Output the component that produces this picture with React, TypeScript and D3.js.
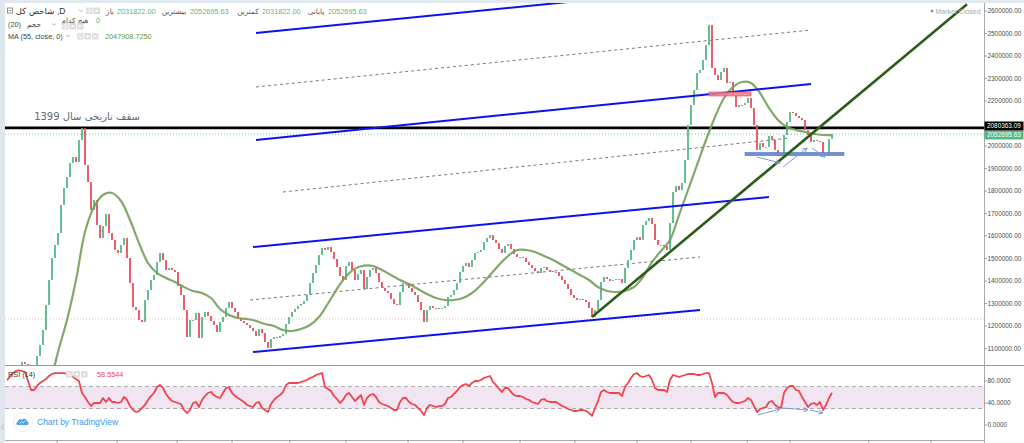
import React from 'react';
import * as d3 from 'd3';

const W = 1024;
const H = 443;

// daily closes of the index, in thousands (one per bar)
const closes: number[] = [
  937.8, 960, 977.8, 1000, 1017.8,
  1040, 1031.1, 1013.3, 1004.4, 1022.2,
  1066.7, 1115.6, 1182.2, 1293.3, 1404.4,
  1502.2, 1560, 1613.3, 1737.8, 1813.3,
  1862.2, 1924.4, 1951.1, 1928.9, 2026.7,
  2080, 1915.6, 1840, 1715.6, 1760,
  1648.9, 1591.1, 1644.4, 1697.8, 1613.3,
  1582.2, 1537.8, 1524.4, 1560, 1591.1,
  1502.2, 1391.1, 1284.4, 1271.1, 1226.7,
  1217.8, 1315.6, 1360, 1404.4, 1426.7,
  1484.4, 1524.4, 1493.3, 1448.9, 1457.8,
  1448.9, 1440, 1377.8, 1337.8, 1271.1,
  1151.1, 1226.7, 1226.7, 1257.8, 1146.7,
  1240, 1262.2, 1244.4, 1222.2, 1204.4,
  1173.3, 1217.8, 1240, 1280, 1306.7,
  1280, 1262.2, 1235.6, 1222.2, 1213.3,
  1204.4, 1191.1, 1177.8, 1155.6, 1186.7,
  1168.9, 1128.9, 1102.2, 1142.2, 1151.1,
  1146.7, 1155.6, 1164.4, 1208.9, 1240,
  1262.2, 1275.6, 1288.9, 1297.8, 1311.1,
  1337.8, 1391.1, 1435.6, 1471.1, 1515.6,
  1546.7, 1537.8, 1551.1, 1528.9, 1497.8,
  1462.2, 1422.2, 1404.4, 1466.7, 1484.4,
  1448.9, 1404.4, 1431.1, 1448.9, 1364.4,
  1417.8, 1448.9, 1457.8, 1435.6, 1395.6,
  1368.9, 1355.6, 1346.7, 1320, 1297.8,
  1293.3, 1351.1, 1391.1, 1391.1, 1368.9,
  1351.1, 1337.8, 1306.7, 1271.1, 1217.8,
  1271.1, 1288.9, 1280, 1275.6, 1280,
  1280, 1288.9, 1328.9, 1337.8, 1360,
  1391.1, 1440, 1466.7, 1480, 1462.2,
  1493.3, 1524.4, 1528.9, 1537.8, 1573.3,
  1591.1, 1604.4, 1582.2, 1568.9, 1542.2,
  1524.4, 1555.6, 1564.4, 1542.2, 1520,
  1506.7, 1506.7, 1502.2, 1484.4, 1471.1,
  1457.8, 1444.4, 1435.6, 1457.8, 1462.2,
  1448.9, 1444.4, 1440, 1440, 1422.2,
  1404.4, 1386.7, 1364.4, 1337.8, 1324.4,
  1315.6, 1320, 1315.6, 1306.7, 1280,
  1240, 1271.1, 1315.6, 1395.6, 1417.8,
  1408.9, 1400, 1404.4, 1408.9, 1408.9,
  1391.1, 1457.8, 1493.3, 1537.8, 1582.2,
  1595.6, 1582.2, 1648.9, 1666.7, 1680,
  1653.3, 1582.2, 1560, 1560, 1555.6,
  1537.8, 1657.8, 1795.6, 1822.2, 1804.4,
  1835.6, 1937.8, 2093.3, 2182.2, 2248.9,
  2324.4, 2337.8, 2382.2, 2448.9, 2537.8,
  2346.7, 2315.6, 2293.3, 2328.9, 2346.7,
  2280, 2284.4, 2226.7, 2173.3, 2182.2,
  2182.2, 2191.1, 2213.3, 2168.9, 2093.3,
  1982.2, 2013.3, 1995.6, 1995.6, 2044.4,
  2026.7, 1982.2, 1955.6, 1960, 2048.9,
  2106.7, 2151.1, 2146.7, 2133.3, 2124.4,
  2115.6, 2071.1, 2048.9, 2017.8, 2026.7,
  2022.2, 2017.8, 1968.9, 1964.4, 2031.8,
  2052.7,
];

// RSI(14), one per bar
const rsi14: number[] = [
  81.8, 87.3, 94.5, 98.2, 99.5,
  98.2, 96.4, 80, 63.6, 63.6,
  70.9, 76.4, 80, 83.6, 89.1,
  92.7, 94.5, 94.5, 94.5, 94.5,
  92.7, 90.9, 87.3, 83.6, 80,
  58.2, 50.9, 41.8, 34.5, 40,
  40, 40, 49.1, 41.8, 49.1,
  41.8, 41.8, 40, 41.8, 50.9,
  45.5, 34.5, 27.3, 23.6, 25.5,
  30.9, 36.4, 45.5, 52.7, 58.2,
  69.1, 72.7, 67.3, 56.4, 49.1,
  43.6, 41.8, 40, 38.2, 27.3,
  21.8, 27.3, 40, 41.8, 32.7,
  45.5, 52.7, 58.2, 60, 54.5,
  50.9, 49.1, 58.2, 67.3, 69.1,
  58.2, 52.7, 49.1, 45.5, 41.8,
  36.4, 34.5, 32.7, 40, 41.8,
  30.9, 27.3, 23.6, 38.2, 45.5,
  50.9, 54.5, 60, 72.7, 76.4,
  76.4, 76.4, 76.4, 78.2, 80,
  81.8, 85.5, 87.3, 90.9, 92.7,
  94.5, 69.1, 65.5, 61.8, 52.7,
  47.3, 40, 45.5, 54.5, 58.2,
  50.9, 43.6, 49.1, 54.5, 36.4,
  49.1, 54.5, 56.4, 50.9, 41.8,
  38.2, 36.4, 34.5, 30.9, 27.3,
  27.3, 41.8, 49.1, 49.1, 41.8,
  38.2, 36.4, 30.9, 25.5, 18.2,
  30.9, 36.4, 34.5, 32.7, 34.5,
  34.5, 38.2, 49.1, 50.9, 56.4,
  61.8, 69.1, 72.7, 74.5, 70.9,
  76.4, 80, 80, 81.8, 85.5,
  87.3, 89.1, 78.2, 72.7, 65.5,
  60, 67.3, 67.3, 60, 54.5,
  52.7, 52.7, 50.9, 47.3, 45.5,
  41.8, 40, 38.2, 45.5, 47.3,
  43.6, 41.8, 41.8, 41.8, 38.2,
  34.5, 32.7, 29.1, 27.3, 25.5,
  25.5, 27.3, 27.3, 25.5, 21.8,
  16.4, 30.9, 43.6, 60, 63.6,
  60, 58.2, 58.2, 58.2, 58.2,
  52.7, 69.1, 76.4, 85.5, 92.7,
  94.5, 89.1, 87.3, 89.1, 90.9,
  81.8, 67.3, 63.6, 63.6, 63.6,
  60, 81.8, 90.9, 89.1, 87.3,
  89.1, 90.9, 92.7, 92.7, 92.7,
  90.9, 90.9, 92.7, 94.5, 94.5,
  76.4, 50.9, 58.2, 58.2, 58.2,
  54.5, 47.3, 41.8, 40, 40,
  41.8, 43.6, 49.1, 45.5, 34.5,
  23.6, 29.1, 30.9, 32.7, 41.8,
  43.6, 36.4, 32.7, 30.9, 58.2,
  67.3, 70.9, 70.9, 63.6, 61.8,
  50.9, 41.8, 32.7, 38.2, 40,
  36.4, 41.8, 27.3, 36.4, 49.1,
  58.55,
];

// MA(55) read every third bar, starting at bar 14 (thousands)
const maStart = 14;
const maStep = 3;
const ma55: number[] = [
  915.6, 1084.4, 1226.7, 1404.4, 1617.8, 1728.9, 1782.2, 1791.1, 1755.6, 1671.1,
  1568.9, 1480, 1435.6, 1413.3, 1395.6, 1373.3, 1355.6, 1346.7, 1324.4, 1275.6,
  1248.9, 1235.6, 1231.1, 1222.2, 1208.9, 1200, 1182.2, 1177.8, 1186.7, 1204.4,
  1240, 1300, 1365, 1420, 1455, 1468, 1466.7, 1448.9, 1426.7, 1404.4,
  1386.7, 1364.4, 1342.2, 1324.4, 1315.6, 1315.6, 1324.4, 1346.7, 1382.2, 1426.7,
  1471.1, 1511.1, 1537.8, 1537.8, 1528.9, 1511.1, 1493.3, 1471.1, 1448.9, 1426.7,
  1404.4, 1373.3, 1355.6, 1351.1, 1355.6, 1373.3, 1417.8, 1484.4, 1533.3, 1582.2,
  1693.3, 1804.4, 1915.6, 2026.7, 2128.9, 2213.3, 2262.2, 2284.4, 2280, 2235.6,
  2168.9, 2115.6, 2084.4, 2071.1, 2062.2, 2053.3, 2048.9, 2047.9,
];

const priceTicks = [2600, 2500, 2400, 2300, 2200, 2100, 2000, 1900, 1800, 1700, 1600, 1500, 1400, 1300, 1200, 1100];
const rsiTicks = [80, 40, 0];
const rsiBand = [70, 30];
// month boundaries on the time axis, in bar units
const timeTicks = [16.7, 36.7, 56.7, 75, 94.3, 113, 133.7, 152, 171, 189.3, 210, 228, 246.7, 261, 287.3, 308];

// drawn tools: [bar1, price1, bar2, price2]
const blueChannelLines = [
  [83, 2502.2, 187, 2640.0],
  [83, 2026.7, 268, 2275.6],
  [82, 1551.1, 254, 1773.3],
  [82, 1084.4, 231, 1271.1],
];
const dashedMidLines = [
  [83, 2262.2, 268, 2515.6],
  [92, 1795.6, 261, 2035.6],
  [81, 1315.6, 231, 1506.7],
];
const trendLine = [195, 1240, 320, 2630];
const historicHigh = 2080.36309;
const lastClose = 2052.69563;
const lowLevel = 1231.1;
const resistanceZone = [234, 248, 2231.1];
const supportZone = [246, 279, 1964.4];
const priceArrows = [
  [250, 1951.1, 257.7, 1924.4],
  [258.7, 1906.7, 266.7, 1991.1],
  [268.3, 1991.1, 272.7, 1951.1],
];
const rsiArrows = [
  [250.3, 18.2, 257.7, 29.1],
  [258.3, 30.9, 267, 27.3],
  [267.7, 27.3, 272, 21.8],
];

const legendOHLC = [
  { label: 'باز', value: '2031822.00' },
  { label: 'بیشترین', value: '2052695.63' },
  { label: 'کمترین', value: '2031822.00' },
  { label: 'پایانی', value: '2052695.63' },
];

const NUM = '"Liberation Sans", Arial, sans-serif';
const FA = '"DejaVu Sans", "Noto Sans", sans-serif';

function Icons({ x, y, n }: { x: number; y: number; n: number }) {
  return (
    <g>
      {d3.range(n).map((k) => (
        <g key={k} transform={`translate(${x + k * 7.5},${y})`}>
          <rect width={6.5} height={6.5} rx={0.8} fill="#dcdcdc" />
          {k === 0 && <circle cx={3.25} cy={3.25} r={1.6} fill="none" stroke="#fff" strokeWidth={0.8} />}
          {k === 1 && <circle cx={3.25} cy={3.25} r={1.3} fill="#fff" />}
          {k === 2 && <path d="M1.6,1.6 L4.9,4.9 M4.9,1.6 L1.6,4.9" stroke="#fff" strokeWidth={0.9} />}
        </g>
      ))}
    </g>
  );
}

function Chevron({ x, y }: { x: number; y: number }) {
  return <path d={`M${x},${y} L${x + 2},${y + 1.6} L${x + 4},${y}`} fill="none" stroke="#aaa" strokeWidth={0.8} />;
}

export default function App() {
  const x = d3.scaleLinear().domain([0, closes.length - 1]).range([7, 832]);
  const y = d3.scaleLinear().domain([1100, 2600]).range([348.5, 11]);
  const yr = d3.scaleLinear().domain([0, 80]).range([425, 381]);

  const up = '#53b987';
  const down = '#eb4d5c';

  const maLine = d3
    .line<number>()
    .x((_, k) => x(maStart + k * maStep))
    .y((v) => y(v))
    .curve(d3.curveCatmullRom.alpha(0.5));

  const rsiLine = d3
    .line<number>()
    .x((_, k) => x(k))
    .y((v) => yr(v));

  const fmtP = (v: number) => d3.format('.2f')(v * 1000);
  const fmtR = d3.format('.4f');

  const seg = (s: number[], sy: (v: number) => number) => ({
    x1: x(s[0]),
    y1: sy(s[1]),
    x2: x(s[2]),
    y2: sy(s[3]),
  });

  const axisX = 984.5;
  // axis labels hidden behind the price tags
  const tagYs = [y(historicHigh), y(lastClose)];
  const visibleTicks = priceTicks.filter((v) => tagYs.every((ty) => Math.abs(y(v) - ty) > 9));

  return (
    <svg width={W} height={H} style={{ position: 'absolute', left: 0, top: 0, display: 'block', background: '#fff' }}>
      <defs>
        <clipPath id="mainClip">
          <rect x={5} y={3} width={axisX - 5} height={362} />
        </clipPath>
        <clipPath id="rsiClip">
          <rect x={5} y={366} width={axisX - 5} height={74} />
        </clipPath>
        <marker id="arr" viewBox="0 0 8 8" refX={7} refY={4} markerWidth={6} markerHeight={6} orient="auto">
          <path d="M1,1 L7,4 L1,7" fill="none" stroke="#7d9bd8" strokeWidth={1.2} />
        </marker>
      </defs>

      {/* frame strips */}
      <rect x={0} y={0} width={W} height={3} fill="#e2e8ef" />
      <rect x={0} y={0} width={5} height={H} fill="#dfe6ee" />
      <path d="M3.5,424 L1.8,427 L3.5,430" fill="none" stroke="#9aa" strokeWidth={0.7} />

      {/* ===== main pane ===== */}
      <g clipPath="url(#mainClip)">
        <line x1={5} x2={axisX} y1={y(lowLevel)} y2={y(lowLevel)} stroke="#f2b9b9" strokeWidth={1} strokeDasharray="1 2" />

        {dashedMidLines.map((s, k) => (
          <line key={k} {...seg(s, y)} stroke="#777" strokeWidth={1} strokeDasharray="3 3" />
        ))}

        <line x1={5} x2={axisX} y1={y(historicHigh)} y2={y(historicHigh)} stroke="#000" strokeWidth={2.6} />
        <line x1={5} x2={axisX} y1={y(lastClose)} y2={y(lastClose)} stroke={up} strokeWidth={0.8} strokeDasharray="1 2" />

        {closes.map((c, i) => {
          const o = i === 0 ? c : closes[i - 1];
          const y0 = y(Math.max(o, c));
          const h = Math.max(1, Math.abs(y(o) - y(c)));
          return <rect key={i} x={x(i) - 0.9} y={y0} width={1.8} height={h} fill={c >= o ? up : down} />;
        })}

        <path d={maLine(ma55) || ''} fill="none" stroke="#72a05a" strokeOpacity={0.9} strokeWidth={2.2} />

        {blueChannelLines.map((s, k) => (
          <line key={k} {...seg(s, y)} stroke="#0a12f2" strokeWidth={2} />
        ))}

        <rect
          x={x(resistanceZone[0])}
          y={y(resistanceZone[2]) - 2}
          width={x(resistanceZone[1]) - x(resistanceZone[0])}
          height={4}
          fill="#ef7d8c"
          fillOpacity={0.85}
          stroke="#d9455c"
          strokeWidth={0.6}
        />
        <rect
          x={x(supportZone[0])}
          y={y(supportZone[2]) - 1.6}
          width={x(supportZone[1]) - x(supportZone[0])}
          height={3.2}
          fill="#6f8fd0"
          stroke="#4a6ab5"
          strokeWidth={0.5}
        />

        <line {...seg(trendLine, y)} stroke="#2c5d18" strokeWidth={2.6} />

        {priceArrows.map((s, k) => (
          <line key={k} {...seg(s, y)} stroke="#7d9bd8" strokeWidth={1} markerEnd="url(#arr)" />
        ))}
      </g>

      {/* annotation */}
      <text x={87} y={119.5} textAnchor="middle" fontFamily={FA} fontSize={10} fill="#5f6775">
        سقف تاریخی سال 1399
      </text>

      {/* Market closed */}
      <circle cx={932} cy={11} r={1.5} fill="#999" />
      <text x={935.5} y={13.5} fontFamily={NUM} fontSize={7} fill="#aaa">
        Market Closed
      </text>

      {/* legend row 1 */}
      <rect x={7.5} y={8} width={5} height={5} fill="none" stroke="#666" strokeWidth={0.7} />
      <line x1={8.7} x2={11.3} y1={10.5} y2={10.5} stroke="#666" strokeWidth={0.7} />
      <text x={35} y={14} textAnchor="middle" fontFamily={FA} fontSize={8.5} fill="#333">
        شاخص کل
      </text>
      <text x={57} y={14} fontFamily={NUM} fontSize={8.5} fill="#333">
        ,D
      </text>
      <Chevron x={79} y={10} />
      <Icons x={86} y={7.5} n={2} />
      {legendOHLC.map((d, k) => {
        const lx = [110, 174, 248, 316][k];
        const vx = [117, 190, 262, 328][k];
        return (
          <g key={k}>
            <text x={lx} y={13.8} textAnchor="middle" fontFamily={FA} fontSize={7.3} fill="#555">
              {d.label}
            </text>
            <text x={vx} y={13.8} fontFamily={NUM} fontSize={7.3} fill={up}>
              {d.value}
            </text>
          </g>
        );
      })}

      {/* legend row 2 (volume) */}
      <text x={75} y={22.5} textAnchor="middle" fontFamily={FA} fontSize={7.3} fill="#555">
        هیچ کدام
      </text>
      <text x={96} y={22.5} fontFamily={NUM} fontSize={7.3} fill={up}>
        0
      </text>
      <text x={8} y={27} fontFamily={NUM} fontSize={7.3} fill="#444">
        (20)
      </text>
      <text x={34} y={27} textAnchor="middle" fontFamily={FA} fontSize={7.3} fill="#444">
        حجم
      </text>
      <Chevron x={52} y={23.5} />
      <Icons x={62} y={23} n={3} />

      {/* legend row 3 (MA) */}
      <text x={8} y={38.5} fontFamily={NUM} fontSize={7.3} fill="#444">
        MA (55, close, 0)
      </text>
      <Chevron x={66} y={35} />
      <Icons x={77} y={33} n={3} />
      <text x={105} y={38.5} fontFamily={NUM} fontSize={7.3} fill="#5f9a3a">
        2047908.7250
      </text>

      {/* ===== RSI pane ===== */}
      <line x1={5} x2={W} y1={365.5} y2={365.5} stroke="#9a9a9a" strokeWidth={1} />
      <rect x={5} y={yr(rsiBand[0])} width={axisX - 5} height={yr(rsiBand[1]) - yr(rsiBand[0])} fill="#f1e5f1" />
      {rsiBand.map((v) => (
        <line key={v} x1={5} x2={axisX} y1={yr(v)} y2={yr(v)} stroke="#999" strokeWidth={0.8} strokeDasharray="4 3" />
      ))}
      <g clipPath="url(#rsiClip)">
        <path d={rsiLine(rsi14) || ''} fill="none" stroke="#f2434f" strokeWidth={1.8} strokeLinejoin="round" />
        {rsiArrows.map((s, k) => (
          <line key={k} {...seg(s, yr)} stroke="#7d9bd8" strokeWidth={1} markerEnd="url(#arr)" />
        ))}
      </g>
      <text x={8} y={376.5} fontFamily={NUM} fontSize={7.3} fill="#333">
        RSI (14)
      </text>
      <Icons x={66} y={371} n={3} />
      <text x={97} y={376.5} fontFamily={NUM} fontSize={7.3} fill="#f0434f">
        58.5544
      </text>

      {/* TradingView badge */}
      <circle cx={23} cy={422} r={9.5} fill="#fff" stroke="#e3e6ec" strokeWidth={0.8} />
      <path
        d="M17.5,425 C16,425 16,422 17.8,421.8 C18,419.5 20.5,418.6 22,420 C23,418 26.8,418.4 27,421.2 C29,421.3 29,425 27,425 Z"
        fill="#4aa3e3"
      />
      <path d="M19.5,423.5 L21.5,421.5 L23,423 L25.5,420.5" fill="none" stroke="#fff" strokeWidth={0.8} />
      <text x={37} y={425} fontFamily={NUM} fontSize={8.5} fill="#3a9be6">
        Chart by TradingView
      </text>

      {/* ===== axes ===== */}
      <line x1={axisX} x2={axisX} y1={3} y2={H} stroke="#a9a9a9" strokeWidth={1} />
      {visibleTicks.map((v) => (
        <g key={v}>
          <line x1={axisX} x2={axisX + 2.5} y1={y(v)} y2={y(v)} stroke="#888" strokeWidth={0.8} />
          <text x={987.5} y={y(v) + 2.2} fontFamily={NUM} fontSize={6.4} fill="#4a4a4a">
            {fmtP(v)}
          </text>
        </g>
      ))}
      {rsiTicks.map((v) => (
        <g key={v}>
          <line x1={axisX} x2={axisX + 2.5} y1={yr(v)} y2={yr(v)} stroke="#888" strokeWidth={0.8} />
          <text x={987.5} y={yr(v) + 2.2} fontFamily={NUM} fontSize={6.4} fill="#4a4a4a">
            {fmtR(v)}
          </text>
        </g>
      ))}

      {/* price labels */}
      <rect x={axisX} y={130.5} width={39} height={9} fill={up} />
      <text x={987} y={137.4} fontFamily={NUM} fontSize={6.4} fill="#fff">
        {fmtP(lastClose)}
      </text>
      <rect x={axisX} y={121.5} width={39} height={9} fill="#000" />
      <text x={987} y={128.3} fontFamily={NUM} fontSize={6.4} fill="#fff">
        {d3.format('.2f')(historicHigh * 1000)}
      </text>

      {/* time axis */}
      <line x1={5} x2={axisX} y1={440.5} y2={440.5} stroke="#a9a9a9" strokeWidth={1} />
      {timeTicks.map((t) => (
        <line key={t} x1={x(t)} x2={x(t)} y1={440.5} y2={443} stroke="#888" strokeWidth={0.8} />
      ))}
    </svg>
  );
}
